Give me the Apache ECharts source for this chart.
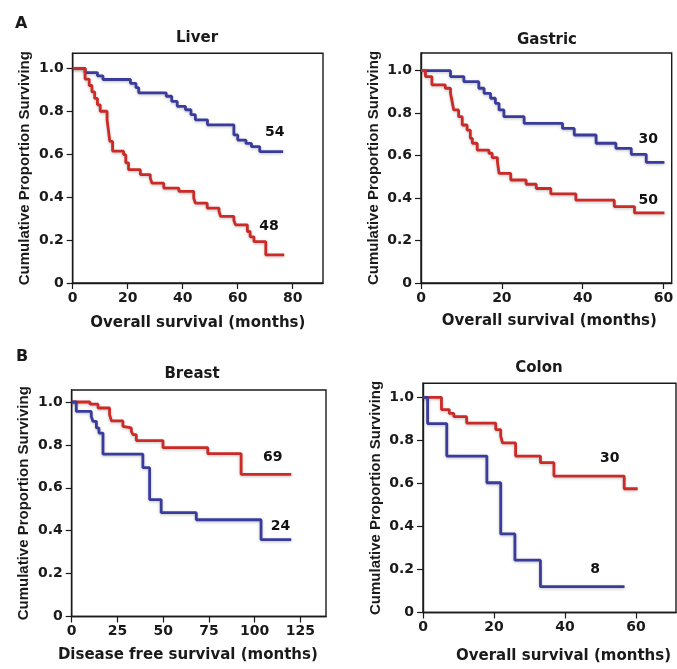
<!DOCTYPE html>
<html>
<head>
<meta charset="utf-8">
<script src="https://cdn.jsdelivr.net/npm/echarts@6/dist/echarts.min.js"></script>
<style>
  html, body { margin: 0; padding: 0; background: #fff; }
  #chart { width: 677px; height: 669px; }
</style>
</head>
<body>
<div id="chart"></div>
<script>
// Kaplan-Meier steps, [month, proportion surviving]
const liverBlue = [[0, 1], [4.5, 0.98], [9, 0.965], [11, 0.948], [21, 0.93], [23, 0.91], [24, 0.886],
  [34, 0.87], [36, 0.846], [38, 0.823], [41, 0.807], [43, 0.784], [44.6, 0.76], [49, 0.737],
  [58.6, 0.69], [60, 0.666], [63, 0.65], [65, 0.635], [68, 0.612], [76.5, 0.612]]
const liverRed = [[0, 1], [4.5, 0.95], [6, 0.92], [7, 0.89], [8, 0.86], [9, 0.83], [10, 0.8],
  [12.5, 0.76], [13, 0.71], [13.5, 0.66], [14.5, 0.614], [18.5, 0.598], [19.3, 0.56], [20.3, 0.528],
  [24.6, 0.505], [28.2, 0.49], [28.8, 0.465], [33.1, 0.442], [38.6, 0.427], [44, 0.396], [44.6, 0.372],
  [48.9, 0.349], [53.2, 0.333], [53.8, 0.31], [58.6, 0.291], [59.2, 0.271], [63.5, 0.24], [64.5, 0.215],
  [65.9, 0.193], [70.2, 0.131], [76.9, 0.131]]

const gastricBlue = [[0, 1], [7.3, 0.972], [10.6, 0.948], [14.3, 0.917], [15.6, 0.893], [17.2, 0.87],
  [18.4, 0.846], [19.3, 0.815], [20.5, 0.783], [25.5, 0.752], [35, 0.728], [37.9, 0.697], [43.3, 0.658],
  [48.2, 0.634], [52, 0.606], [55.7, 0.568], [60.2, 0.568]]
const gastricRed = [[0, 1], [1.1, 0.972], [2.7, 0.933], [6, 0.917], [7.3, 0.893], [7.7, 0.854], [8.1, 0.815],
  [9.3, 0.783], [10.2, 0.744], [11.4, 0.72], [12.2, 0.681], [12.7, 0.658], [13.9, 0.626], [16.8, 0.611],
  [17.6, 0.59], [18.9, 0.571], [19.3, 0.516], [22.2, 0.485], [26, 0.465], [28.5, 0.445], [32.1, 0.42],
  [38.3, 0.39], [47.8, 0.36], [52.8, 0.33], [60.2, 0.33]]

const breastRed = [[0, 1], [10, 0.99], [14.4, 0.972], [20.7, 0.941], [21.7, 0.912], [28, 0.886], [28.9, 0.879],
  [32.6, 0.863], [33.5, 0.848], [35.3, 0.82], [49.9, 0.787], [74.4, 0.759], [92.6, 0.663], [120, 0.663]]
const breastBlue = [[0, 1], [2.5, 0.956], [10.7, 0.933], [11.6, 0.91], [13.5, 0.879], [14.9, 0.855],
  [17.1, 0.757], [38.9, 0.694], [42.6, 0.545], [48.9, 0.484], [68.1, 0.451], [103.5, 0.358], [120, 0.358]]

const colonRed = [[0, 1], [5.2, 0.943], [7.4, 0.925], [8.7, 0.91], [12.3, 0.88], [20.5, 0.85], [21.9, 0.82],
  [22.4, 0.788], [26.1, 0.727], [33.1, 0.696], [36.9, 0.634], [56.7, 0.575], [60.5, 0.575]]
const colonBlue = [[0, 1], [1.3, 0.878], [6.7, 0.727], [18, 0.603], [21.9, 0.365], [25.9, 0.243],
  [33.1, 0.12], [56.8, 0.12]]

// group sizes written next to the curves
const liverLabels = [[73.5, 0.70, '54'], [71.4, 0.266, '48']]
const gastricLabels = [[56.2, 0.677, '30'], [56.2, 0.391, '50']]
const breastLabels = [[109.9, 0.742, '69'], [114.1, 0.419, '24']]
const colonLabels = [[52.6, 0.717, '30'], [48.5, 0.2, '8']]

// tick labels
const yTicks = [0, 0.2, 0.4, 0.6, 0.8, 1.0]
const liverXTicks = [0, 20, 40, 60, 80]
const gastricXTicks = [0, 20, 40, 60]
const breastXTicks = [0, 25, 50, 75, 100, 125]
const colonXTicks = [0, 20, 40, 60]

const BLUE = '#3a3c9c'
const RED = '#cc2a26'
const INK = '#1a1a1a'
const FONT = 'DejaVu Sans'

const panels = [
  { title: 'Liver', tx: 197, ty: 31, grid: { left: 72.7, top: 53.3, width: 250.3, height: 229.7 },
    xMax: 91, xTicks: liverXTicks, yMax: 1.07, xName: 'Overall survival (months)', xGap: 33, xPad: [0, 0, 0, 0],
    curves: [[liverBlue, BLUE], [liverRed, RED]], labels: liverLabels },
  { title: 'Gastric', tx: 547, ty: 33, grid: { left: 421, top: 53, width: 250.7, height: 230 },
    xMax: 62, xTicks: gastricXTicks, yMax: 1.083, xName: 'Overall survival (months)', xGap: 31, xPad: [0, 0, 0, 6],
    curves: [[gastricBlue, BLUE], [gastricRed, RED]], labels: gastricLabels },
  { title: 'Breast', tx: 192, ty: 367, grid: { left: 71.7, top: 390, width: 254.3, height: 226.5 },
    xMax: 139, xTicks: breastXTicks, yMax: 1.056, xName: 'Disease free survival (months)', xGap: 31, xPad: [0, 22, 0, 0],
    curves: [[breastRed, RED], [breastBlue, BLUE]], labels: breastLabels },
  { title: 'Colon', tx: 539, ty: 361, grid: { left: 423, top: 383.3, width: 253, height: 229.2 },
    xMax: 71.3, xTicks: colonXTicks, yMax: 1.065, xName: 'Overall survival (months)', xGap: 36, xPad: [0, 0, 0, 28],
    curves: [[colonRed, RED], [colonBlue, BLUE]], labels: colonLabels }
]

const chart = echarts.init(document.getElementById('chart'))

const title = panels.map(p => ({
  text: p.title, left: p.tx, top: p.ty, textAlign: 'center', padding: 0,
  textStyle: { fontFamily: FONT, fontSize: 15, fontWeight: 'bold', color: INK }
}))
title.push({ text: 'A', left: 15, top: 16, padding: 0,
  textStyle: { fontFamily: FONT, fontSize: 16, fontWeight: 'bold', color: INK } })
title.push({ text: 'B', left: 16, top: 349, padding: 0,
  textStyle: { fontFamily: FONT, fontSize: 16, fontWeight: 'bold', color: INK } })

const grid = panels.map(p => Object.assign({ show: true, borderColor: INK, borderWidth: 1.4 }, p.grid))

const xAxis = panels.map((p, i) => ({
  type: 'value', gridIndex: i, min: 0, max: p.xMax,
  name: p.xName, nameLocation: 'middle', nameGap: p.xGap,
  nameTextStyle: { fontFamily: FONT, fontSize: 15, fontWeight: 'bold', color: INK, padding: p.xPad },
  axisLine: { show: true, lineStyle: { color: INK, width: 1.4 } },
  axisTick: { show: true, length: 6, customValues: p.xTicks, lineStyle: { color: INK, width: 1.2 } },
  axisLabel: { customValues: p.xTicks, margin: 8, fontFamily: FONT, fontSize: 14, fontWeight: 'bold', color: INK },
  splitLine: { show: false }
}))

const yAxis = panels.map((p, i) => ({
  type: 'value', gridIndex: i, min: 0, max: p.yMax,
  name: 'Cumulative Proportion Surviving', nameLocation: 'middle', nameGap: 40,
  nameTextStyle: { fontFamily: 'Liberation Sans', fontSize: 15, fontWeight: 'bold', color: INK },
  axisLine: { show: true, lineStyle: { color: INK, width: 1.4 } },
  axisTick: { show: true, length: 6, customValues: yTicks, lineStyle: { color: INK, width: 1.2 } },
  axisLabel: { customValues: yTicks, margin: 9, fontFamily: FONT, fontSize: 14, fontWeight: 'bold', color: INK,
    formatter: v => v === 0 ? '0' : v.toFixed(1) },
  splitLine: { show: false }
}))

const series = []
panels.forEach((p, i) => {
  p.curves.forEach(([data, color]) => {
    series.push({
      type: 'line', step: 'end', xAxisIndex: i, yAxisIndex: i, data: data,
      showSymbol: false, silent: true,
      lineStyle: { color: color, width: 2.8, shadowColor: 'rgba(0,0,0,0.25)', shadowBlur: 3, shadowOffsetY: 1 }
    })
  })
  series.push({
    type: 'scatter', xAxisIndex: i, yAxisIndex: i, data: p.labels, symbolSize: 0, silent: true,
    itemStyle: { opacity: 1 },
    label: { show: true, position: 'inside', formatter: d => d.value[2], opacity: 1,
      fontFamily: FONT, fontSize: 14, fontWeight: 'bold', color: '#111' }
  })
})

chart.setOption({ animation: false, backgroundColor: '#fff', title, grid, xAxis, yAxis, series })
</script>
</body>
</html>
